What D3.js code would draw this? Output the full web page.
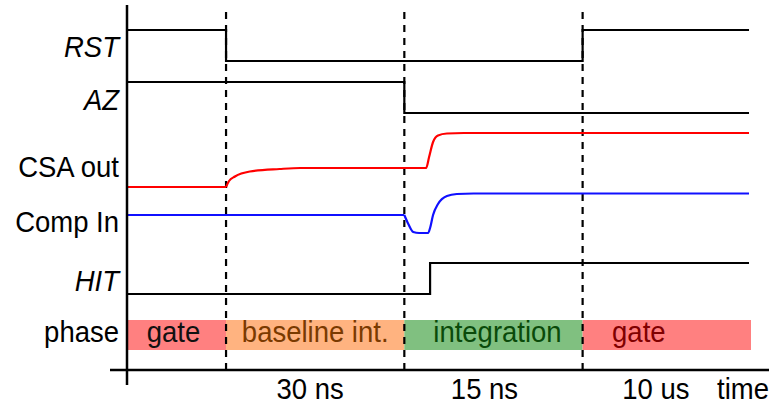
<!DOCTYPE html>
<html>
<head>
<meta charset="utf-8">
<script src="https://cdn.jsdelivr.net/npm/d3@7"></script>
<style>
  body { margin: 0; background: #fff; }
  text { font-family: "Liberation Sans", Arial, sans-serif; font-size: 27.5px; }
</style>
</head>
<body>
<div id="chart"></div>
<script>
// time axis in arbitrary units, phase boundaries at 10 / 28 / 46
var phases = ["gate", "baseline int.", "integration", "gate"];
var phaseStart = [0, 10, 28, 46];
var phaseEnd = [10, 28, 46, 63];
var phaseFill = ["#ff8080", "#ffb380", "#80c080", "#ff8080"];
var phaseText = ["#111111", "#7a3a00", "#0a4a0a", "#800000"];
var durations = ["30 ns", "15 ns", "10 us"];
var boundaries = [10, 28, 46];

var signalNames = ["RST", "AZ", "CSA out", "Comp In", "HIT", "phase"];
var signalItalic = [true, true, false, false, true, false];
var labelLevel = [31.3, 26, 19.3, 13.8, 7.9, 2.8];

// [t, level] points
var rst = [[0, 34], [10, 34], [10, 30.9], [46, 30.9], [46, 34], [62.8, 34]];
var az = [[0, 28.8], [28, 28.8], [28, 25.7], [62.8, 25.7]];
var hit = [[0, 7.6], [30.6, 7.6], [30.6, 10.7], [62.8, 10.7]];
var csaFlat = [[0, 18.3], [10, 18.3]];
var csa = [[10, 18.3], [10.3, 18.9], [10.9, 19.35], [12.4, 19.85], [15.4, 20.1], [17.5, 20.2], [30.2, 20.2],
  [30.5, 21.3], [30.9, 22.8], [31.4, 23.45], [32.3, 23.65], [34, 23.7], [62.8, 23.7]];
var compFlat = [[0, 15.5], [28, 15.5]];
var comp = [[28, 15.5], [28.4, 14.6], [28.9, 13.8], [29.5, 13.7], [30.4, 13.7], [30.6, 14.2], [30.9, 15.5],
  [31.4, 16.6], [32.3, 17.4], [33.3, 17.6], [35, 17.65], [62.8, 17.65]];

var width = 769, height = 404;
var stretch = 1.1; // the reference text is a bit taller than wide

var svg = d3.select("#chart").append("svg")
  .attr("width", width)
  .attr("height", height);

var x = d3.scaleLinear().domain([0, 63]).range([127, 751]);
var y = d3.scaleLinear().domain([0, 37]).range([370, 0]);

var line = d3.line().x(d => x(d[0])).y(d => y(d[1]));
var smooth = d3.line().x(d => x(d[0])).y(d => y(d[1])).curve(d3.curveMonotoneX);

function place(px, py) {
  return "translate(" + px + "," + py + ") scale(1," + stretch + ")";
}

// phase bar
svg.selectAll("rect.phase")
  .data(phases)
  .enter().append("rect")
  .attr("x", (d, i) => x(phaseStart[i]))
  .attr("width", (d, i) => x(phaseEnd[i]) - x(phaseStart[i]))
  .attr("y", y(5))
  .attr("height", y(2) - y(5))
  .attr("fill", (d, i) => phaseFill[i]);

svg.selectAll("text.phase")
  .data(phases)
  .enter().append("text")
  .attr("transform", (d, i) => place((x(phaseStart[i]) + x(phaseEnd[i])) / 2 + [-3, 0, 4, -28][i], y(2.8)))
  .attr("text-anchor", "middle")
  .attr("fill", (d, i) => phaseText[i])
  .text(d => d);

// dashed boundaries
svg.selectAll("line.bound")
  .data(boundaries)
  .enter().append("line")
  .attr("x1", d => x(d)).attr("x2", d => x(d))
  .attr("y1", y(35.8)).attr("y2", y(0))
  .attr("stroke", "#000")
  .attr("stroke-width", 2.2)
  .attr("stroke-dasharray", "7,6");

// digital signals
[rst, az, hit].forEach(function (s) {
  svg.append("path")
    .attr("d", line(s))
    .attr("fill", "none")
    .attr("stroke", "#000")
    .attr("stroke-width", 2.2);
});

// analog signals
svg.append("path").attr("d", line(csaFlat)).attr("fill", "none").attr("stroke", "#ff0000").attr("stroke-width", 2.2);
svg.append("path").attr("d", smooth(csa)).attr("fill", "none").attr("stroke", "#ff0000").attr("stroke-width", 2.2);
svg.append("path").attr("d", line(compFlat)).attr("fill", "none").attr("stroke", "#1010ff").attr("stroke-width", 2.2);
svg.append("path").attr("d", smooth(comp)).attr("fill", "none").attr("stroke", "#1010ff").attr("stroke-width", 2.2);

// axes
svg.append("line")
  .attr("x1", x(0)).attr("x2", x(0))
  .attr("y1", y(36.5)).attr("y2", y(-1.5))
  .attr("stroke", "#000").attr("stroke-width", 2.5);
svg.append("line")
  .attr("x1", 110).attr("x2", width)
  .attr("y1", y(0)).attr("y2", y(0))
  .attr("stroke", "#000").attr("stroke-width", 2.5);

// duration labels
svg.selectAll("text.dur")
  .data(durations)
  .enter().append("text")
  .attr("transform", (d, i) => place((x(phaseStart[i + 1]) + x(phaseEnd[i + 1])) / 2 - [5, 9, 11][i], y(-2.9)))
  .attr("text-anchor", "middle")
  .text(d => d);

svg.append("text")
  .attr("transform", place(717, y(-2.9)))
  .text("time");

// signal names
svg.selectAll("text.name")
  .data(signalNames)
  .enter().append("text")
  .attr("transform", (d, i) => place(119, y(labelLevel[i])))
  .attr("text-anchor", "end")
  .attr("font-style", (d, i) => signalItalic[i] ? "italic" : "normal")
  .text(d => d);
</script>
</body>
</html>
